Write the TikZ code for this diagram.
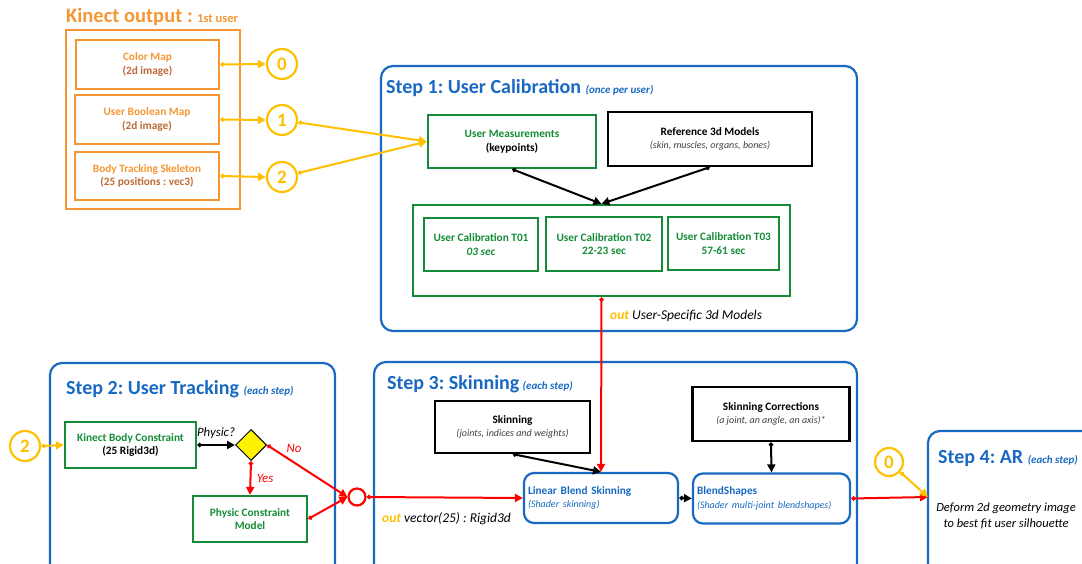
\documentclass[tikz,border=0pt]{standalone}
\usepackage{fontspec}
\setmainfont{Carlito}
\usetikzlibrary{arrows.meta,shapes.geometric}
\definecolor{kinorange}{RGB}{245,150,50}
\definecolor{kinbrown}{RGB}{190,105,55}
\definecolor{ioyellow}{RGB}{255,192,0}
\definecolor{stepblue}{RGB}{25,105,195}
\definecolor{calgreen}{RGB}{20,140,55}
\newcommand{\boxsize}{\fontsize{11.3}{13.5}\selectfont}
\newcommand{\notesize}{\fontsize{10}{12}\selectfont}
\newcommand{\subsize}{\fontsize{11}{13}\selectfont}
\frenchspacing

\begin{document}
\begin{tikzpicture}[x=1pt,y=-1pt,
  kinbox/.style={draw=kinorange,line width=2.2pt,font=\bfseries\boxsize,text=kinorange,align=center,inner sep=0pt},
  numcirc/.style={circle,draw=ioyellow,line width=2.2pt,text=ioyellow,font=\bfseries\fontsize{19}{19}\selectfont,minimum size=30pt,inner sep=0pt},
  greenbox/.style={draw=calgreen,line width=2.2pt,font=\bfseries\boxsize,text=calgreen,align=center,inner sep=0pt},
  blackbox/.style={draw=black,line width=2.2pt,font=\boxsize,align=center,inner sep=0pt},
  shaderbox/.style={draw=stepblue,line width=2.2pt,rounded corners=10pt,text=stepblue,font=\boxsize,align=left,inner xsep=4pt,minimum height=50pt},
  stepframe/.style={draw=stepblue,line width=2.2pt,rounded corners=12pt},
  steptitle/.style={anchor=base west,text=stepblue,font=\bfseries\fontsize{20}{22}\selectfont,inner sep=0pt},
  yarrow/.style={draw=ioyellow,line width=2pt,{Diamond[length=5pt,width=5pt]}-{Triangle[length=8pt,width=8pt]}},
  barrow/.style={draw=black,line width=2pt,{Diamond[length=5pt,width=5pt]}-{Triangle[length=8pt,width=8pt]}},
  rarrow/.style={draw=red,line width=2pt,{Diamond[length=5pt,width=5pt]}-{Triangle[length=8pt,width=8pt]}},
  ]
\useasboundingbox (0,0) rectangle (1082,564);
\clip (0,0) rectangle (1082,564);

%%% Kinect output
\node[anchor=base west,inner sep=0pt,text=kinorange,font=\bfseries\fontsize{20.5}{22}\selectfont] (kintitle) at (66,23) {Kinect output : {\fontsize{12.5}{14}\selectfont 1st user}};
\draw[draw=kinorange,line width=2.2pt] (66,30) rectangle (240,209);
\node[kinbox,minimum width=143pt,minimum height=49pt] (colormap) at (147.5,64.5) {Color Map\\\textcolor{kinbrown}{(2d image)}};
\node[kinbox,minimum width=144pt,minimum height=49pt] (boolmap) at (147,119.5) {User Boolean Map\\\textcolor{kinbrown}{(2d image)}};
\node[kinbox,minimum width=144pt,minimum height=48pt] (skeleton) at (147,176) {Body Tracking Skeleton\\\textcolor{kinbrown}{(25 positions : vec3)}};

\node[numcirc] (out0) at (282,64) {0};
\node[numcirc] (out1) at (282,120) {1};
\node[numcirc] (out2) at (282,177) {2};

\draw[yarrow] (colormap.east) -- (out0.west);
\draw[yarrow] (boolmap.east) -- (out1.west);
\draw[yarrow] (skeleton.east) -- (out2.west);

%%% Step 1
\draw[stepframe] (381,66) rectangle (857,331);
\node[steptitle] (s1title) at (386,94) {Step 1: User Calibration {\itshape\subsize (once per user)}};
\node[greenbox,minimum width=168pt,minimum height=53pt] (usermeas) at (512,141.5) {User Measurements\\\textcolor{black}{(keypoints)}};
\node[blackbox,minimum width=204pt,minimum height=54pt] (refmodels) at (710,139) {\textbf{Reference 3d Models}\\{\itshape\notesize\color{black!75}(skin, muscles, organs, bones)}};
\node[draw=calgreen,line width=2.2pt,minimum width=377pt,minimum height=91pt,inner sep=0pt] (calib) at (601.5,250.5) {};
\node[greenbox,minimum width=114pt,minimum height=53pt] (calt01) at (481,244.5) {User Calibration T01\\\itshape 03 sec};
\node[greenbox,minimum width=116pt,minimum height=54pt] (calt02) at (604,244) {User Calibration T02\\22-23 sec};
\node[greenbox,minimum width=111pt,minimum height=53pt] (calt03) at (723.5,243.5) {User Calibration T03\\57-61 sec};

\draw[yarrow] (out1) -- (usermeas.west);
\draw[yarrow] (out2) -- (usermeas.west);
\draw[barrow] (usermeas.south) -- (calib.north);
\draw[barrow] (refmodels.south) -- (calib.north);

\node[anchor=base west,inner sep=0pt,font=\itshape\fontsize{13.5}{15}\selectfont] (s1out) at (610,319) {\textcolor{ioyellow}{\bfseries out} User-Specific 3d Models};

%%% Step 2
\draw[stepframe] (50,363) rectangle (335,600);
\node[steptitle] (s2title) at (66,394) {Step 2: User Tracking {\itshape\subsize (each step)}};
\node[numcirc] (in2) at (25,446) {2};
\node[greenbox,minimum width=131pt,minimum height=46pt] (kinbody) at (130.5,445) {Kinect Body Constraint\\\textcolor{black}{(25 Rigid3d)}};
\node[diamond,draw=black,fill=yellow,line width=1pt,minimum width=31pt,minimum height=31pt,inner sep=0pt] (physq) at (251,445) {};
\node[greenbox,minimum width=114pt,minimum height=46pt] (physbox) at (250,519) {Physic Constraint\\Model};
\node[circle,draw=red,line width=2.2pt,minimum size=17pt,inner sep=0pt] (junc) at (357,497) {};

\draw[yarrow] (in2.east) -- (kinbody.west);
\draw[barrow] (kinbody.east) -- node[above,font=\itshape\fontsize{12.8}{14}\selectfont,yshift=2pt] {Physic?} (physq.west);
\draw[rarrow] (physq.south) -- node[right,text=red,font=\itshape\fontsize{12.8}{14}\selectfont,xshift=2pt] {Yes} (physbox.north);
\draw[rarrow] (physq.east) -- (junc.west);
\node[text=red,font=\itshape\fontsize{12.8}{14}\selectfont] (nolabel) at (294,448) {No};
\draw[rarrow] (physbox.east) -- (junc.west);

%%% Step 3
\draw[stepframe] (374,362) rectangle (857,600);
\node[steptitle] (s3title) at (387,389) {Step 3: Skinning\,{\itshape\subsize (each step)}};
\node[blackbox,minimum width=155pt,minimum height=52pt] (skinbox) at (512.5,427) {\textbf{Skinning}\\{\itshape\notesize\color{black!75}(joints, indices and weights)}};
\node[blackbox,minimum width=157pt,minimum height=54pt] (corrbox) at (771,414) {\textbf{Skinning Corrections}\\{\itshape\notesize\color{black!75}(a joint, an angle, an axis)*}};
\node[shaderbox,text width=146pt] (lbs) at (601,498) {\textbf{Linear Blend Skinning}\\{\itshape\notesize (Shader skinning)}};
\node[shaderbox,text width=149pt] (blend) at (771.5,498.5) {\textbf{BlendShapes}\\{\itshape\notesize (Shader multi-joint blendshapes)}};

\draw[rarrow] (calib.south) -- (lbs.north);
\draw[barrow] (skinbox.south) -- (lbs.north);
\draw[barrow] (corrbox.south) -- (blend.north);
\draw[barrow] (lbs.east) -- (blend.west);
\draw[rarrow] (junc.east) -- (lbs.west);
\node[anchor=base west,inner sep=0pt,font=\itshape\fontsize{13.5}{15}\selectfont] (s2out) at (382,522) {\textcolor{ioyellow}{\bfseries out} vector(25) : Rigid3d};

%%% Step 4
\draw[stepframe] (928,431) rectangle (1100,600);
\coordinate (arin) at (928,497);
\node[steptitle] (s4title) at (938,463) {Step 4: AR {\itshape\subsize (each step)}};
\node[font=\itshape\fontsize{12.5}{16}\selectfont,align=center] (deform) at (1006,516) {Deform 2d geometry image\\to best fit user silhouette};
\node[numcirc,minimum size=28pt] (in0) at (889,462) {0};

\draw[rarrow] (blend.east) -- (arin);
\draw[yarrow] (in0) -- (arin);
\end{tikzpicture}
\end{document}
